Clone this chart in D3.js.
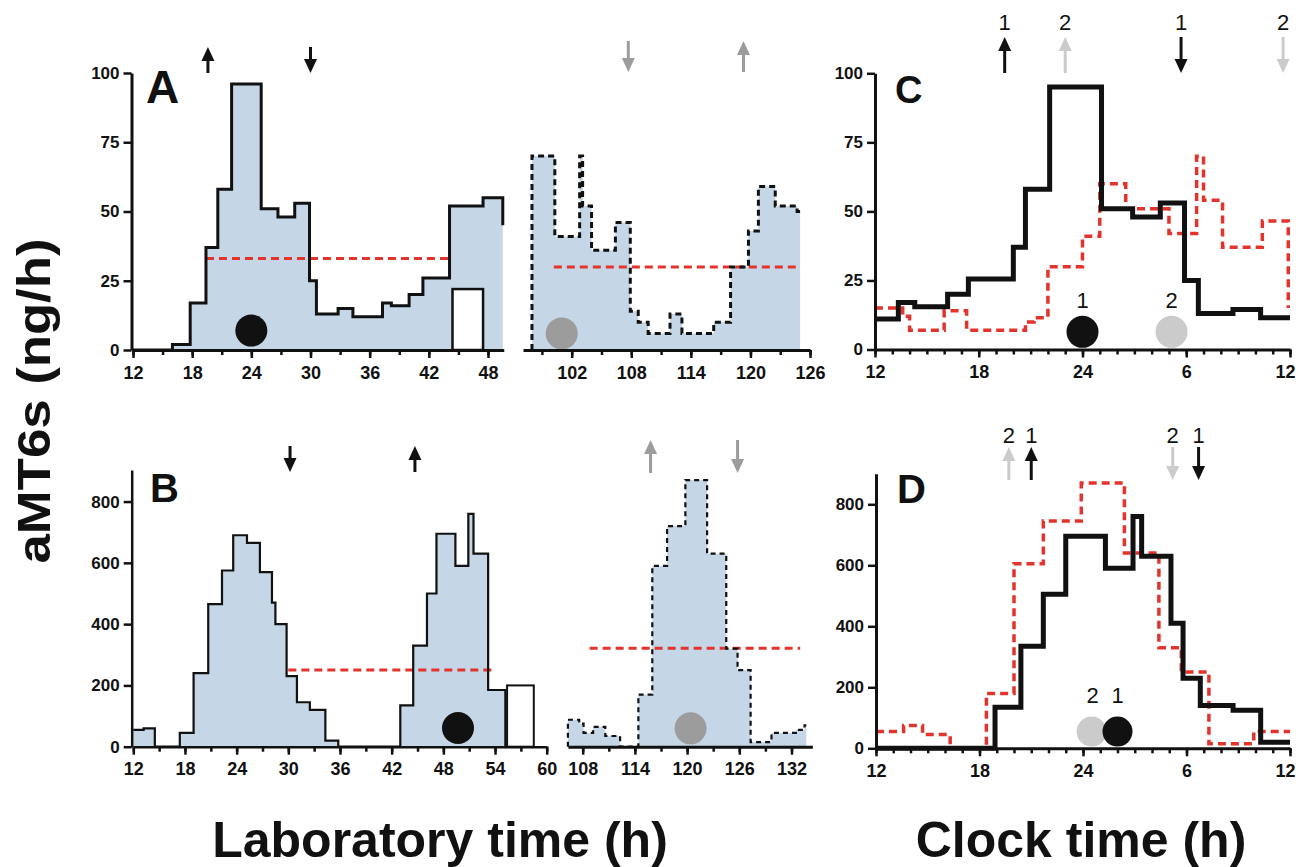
<!DOCTYPE html>
<html><head><meta charset="utf-8">
<script src="https://cdn.jsdelivr.net/npm/d3@7"></script>
<style>body{margin:0;background:#fff}svg{display:block}</style>
</head><body>
<svg id="chart" width="1299" height="867"></svg>
<script>
// ---------- DATA ----------
// Panel A, subject 1, laboratory time (h) – bin edges and aMT6s (ng/h)
const aS1Edges  = [12, 16, 17.8, 19.4, 20.6, 22, 25, 26.7, 28.4, 29.9, 30.6, 32.8, 34.3, 37.3, 38.2, 40, 41.4, 44.1, 47.5, 49.5, 49.5];
const aS1Values = [0, 2, 17, 37, 58, 96, 51, 48, 53, 25, 13, 15, 12, 17, 16, 20, 26, 52, 55, 45];
const aS1Gap    = [44.4, 47.5, 22];
const aS1Mean   = [19.4, 44.1, 33];
const aS1Dots   = [[24, 7]];
const aS1Arrows = [[19.6, "up"], [30, "down"]];
// Panel A, subject 2, laboratory time
const aS2Edges  = [98, 98, 100.3, 102.8, 103.1, 104, 106.4, 107.9, 108.7, 109.7, 111.9, 113.1, 116.3, 118, 119.8, 120.8, 122.5, 124.7, 125];
const aS2Values = [0, 70, 41, 70, 52, 36, 46, 14, 10, 6, 13, 6, 10, 30, 43, 59, 52, 50];
const aS2Mean   = [100.2, 125, 30];
const aS2Dots   = [[101, 6]];
const aS2Arrows = [[107.7, "down"], [119.3, "up"]];
// Panel B, subject 1, laboratory time
const bS1Edges  = [12, 13.2, 14.5, 17.4, 19, 20.7, 22.3, 23.6, 25.2, 26.7, 28.1, 28.5, 29.8, 31, 32.5, 34.3, 35.8, 43, 44.5, 46.1, 47.2, 49.4, 50.9, 51.5, 53.2, 55.2, 55.2];
const bS1Values = [55, 60, 0, 45, 240, 465, 575, 690, 665, 570, 470, 400, 230, 145, 120, 20, 0, 135, 330, 500, 695, 590, 760, 630, 185, 0];
const bS1Gap    = [55.4, 58.5, 200];
const bS1Mean   = [30, 54, 250];
const bS1Dots   = [[49.7, 61]];
const bS1Arrows = [[30.2, "down"], [44.7, "up"]];
// Panel B, subject 2, laboratory time
const bS2Edges  = [106.3, 106.3, 107.6, 108.1, 109.2, 110.6, 112.3, 114.4, 116, 117.7, 119.8, 122.3, 124.5, 125.8, 127.3, 129.7, 132.5, 133.5, 133.7];
const bS2Values = [0, 88, 75, 45, 65, 35, 0, 170, 590, 720, 870, 630, 320, 250, 15, 45, 55, 70];
const bS2Mean   = [108.8, 133, 321];
const bS2Dots   = [[120.4, 60]];
const bS2Arrows = [[115.8, "up"], [125.8, "down"]];
// Panel C, clock time (12 -> 36 = noon to noon)
const cS1Edges  = [12, 13.35, 14.3, 16.2, 17.4, 20, 20.7, 22.1, 25.1, 26.9, 28.5, 29.9, 30.7, 32.7, 34.3, 36];
const cS1Values = [11, 17, 15.5, 20, 25.5, 37, 58, 95, 51, 48, 53, 25, 13, 14.5, 11.5];
const cS2Edges  = [12, 13.6, 14, 16, 17.3, 20.7, 21.2, 22, 24, 25, 26.5, 29, 30.6, 31, 32.1, 34.4, 35.9, 35.9];
const cS2Values = [15, 12, 7, 14, 7, 10, 11.5, 30, 41, 60, 51, 42, 70, 54, 37, 46.5, 15];
const cDots     = [[24, 6.4, 1], [29.15, 6.4, 2]];
const cArrows   = [[19.5, "up", 1], [23, "up", 2], [29.7, "down", 1], [35.6, "down", 2]];
// Panel D, clock time
const dS1Edges  = [12, 18.9, 20.4, 21.7, 23, 25.3, 26.9, 27.4, 29.1, 29.8, 30.8, 32.7, 34.3, 36];
const dS1Values = [0, 135, 335, 505, 695, 590, 760, 630, 410, 230, 140, 125, 20];
const dS2Edges  = [12, 13.6, 14.7, 16.3, 18.4, 20, 21.7, 23.9, 26.4, 28.4, 29.7, 31.3, 33.9, 36];
const dS2Values = [55, 75, 45, 0, 180, 605, 745, 870, 640, 330, 250, 15, 55];
const dDots     = [[24.5, 55, 2], [26.0, 55, 1]];
const dArrows   = [[19.7, "up", 2], [21.0, "up", 1], [29.2, "down", 2], [30.7, "down", 1]];
// Tick labels
const yTicksA = [0, 25, 50, 75, 100];
const yTicksB = [0, 200, 400, 600, 800];
const clockLabels = {12: "12", 18: "18", 24: "24", 30: "6", 36: "12"};

// ---------- STYLE ----------
const FILL = "#c5d7e6", RED = "#e2342d", GREY2 = "#9c9c9c", LIGHT = "#cbcbcb";
const TICKFONT = "'Liberation Sans', Arial, sans-serif";
const svg = d3.select("#chart");

function pts(edges, values) { return edges.map((e, i) => [e, values[Math.min(i, values.length - 1)]]); }

function stepFill(g, x, y, edges, values) {
  g.append("path")
    .attr("d", d3.area().curve(d3.curveStepAfter).x(d => x(d[0])).y0(y(0)).y1(d => y(d[1]))(pts(edges, values)))
    .attr("fill", FILL);
}
function stepLine(g, x, y, edges, values, color, width, dash) {
  g.append("path")
    .attr("d", d3.line().curve(d3.curveStepAfter).x(d => x(d[0])).y(d => y(d[1]))(pts(edges, values)))
    .attr("fill", "none").attr("stroke", color).attr("stroke-width", width)
    .attr("stroke-dasharray", dash || null).attr("stroke-linejoin", "miter").attr("stroke-linecap", "butt");
}
function meanLine(g, x, y, m) {
  g.append("line").attr("x1", x(m[0])).attr("x2", x(m[1])).attr("y1", y(m[2])).attr("y2", y(m[2]))
    .attr("stroke", RED).attr("stroke-width", 3).attr("stroke-dasharray", "8,5");
}
function gapRect(g, x, y, r, w) {
  g.append("rect").attr("x", x(r[0])).attr("y", y(r[2])).attr("width", x(r[1]) - x(r[0])).attr("height", y(0) - y(r[2]))
    .attr("fill", "#fff").attr("stroke", "#111").attr("stroke-width", w);
}
function dot(g, x, y, d, color, r) {
  g.append("circle").attr("cx", x(d[0])).attr("cy", y(d[1])).attr("r", r).attr("fill", color);
}
function arrow(g, xp, top, bot, dir, color) {
  const hw = 6.5, hl = 14;
  if (dir === "up") {
    g.append("line").attr("x1", xp).attr("x2", xp).attr("y1", top + hl - 2).attr("y2", bot).attr("stroke", color).attr("stroke-width", 3);
    g.append("path").attr("d", `M${xp},${top}L${xp + hw},${top + hl}L${xp - hw},${top + hl}Z`).attr("fill", color);
  } else {
    g.append("line").attr("x1", xp).attr("x2", xp).attr("y1", top).attr("y2", bot - hl + 2).attr("stroke", color).attr("stroke-width", 3);
    g.append("path").attr("d", `M${xp},${bot}L${xp + hw},${bot - hl}L${xp - hw},${bot - hl}Z`).attr("fill", color);
  }
}
function xAxis(g, x, y0, minor, major, fmt, w) {
  const gm = g.append("g").attr("transform", `translate(0,${y0})`)
    .call(d3.axisBottom(x).tickValues(minor).tickSize(5).tickSizeOuter(0).tickFormat(""));
  gm.select(".domain").attr("stroke-width", w).attr("stroke", "#111");
  gm.selectAll(".tick line").attr("stroke-width", 2.5).attr("stroke", "#111");
  const gM = g.append("g").attr("transform", `translate(0,${y0})`)
    .call(d3.axisBottom(x).tickValues(major).tickSize(8).tickSizeOuter(0).tickPadding(8).tickFormat(fmt));
  gM.select(".domain").remove();
  gM.selectAll(".tick line").attr("stroke-width", 2.5).attr("stroke", "#111");
  gM.selectAll("text").attr("font-family", TICKFONT).attr("font-size", 18).attr("font-weight", "bold").attr("fill", "#111");
  // keep the last label inside the picture
  gM.selectAll(".tick text").filter(d => x(d) > 1280).attr("dx", -5);
}
function yAxis(g, y, x0, ticks, w) {
  const ga = g.append("g").attr("transform", `translate(${x0},0)`)
    .call(d3.axisLeft(y).tickValues(ticks).tickSize(8).tickSizeOuter(0).tickPadding(4));
  ga.select(".domain").attr("stroke-width", w).attr("stroke", "#111");
  ga.selectAll(".tick line").attr("stroke-width", 2.5).attr("stroke", "#111");
  ga.selectAll("text").attr("font-family", TICKFONT).attr("font-size", 17).attr("font-weight", "bold").attr("fill", "#111");
}
function range(a, b, s) { return d3.range(a, b + 0.001, s); }
function panelLabel(txt, xp, yp, size) {
  svg.append("text").attr("x", xp).attr("y", yp).text(txt)
    .attr("font-family", "'Liberation Sans', Arial, sans-serif").attr("font-weight", "bold").attr("font-size", size).attr("fill", "#111");
}
function numLabel(txt, xp, yp) {
  svg.append("text").attr("x", xp).attr("y", yp).attr("text-anchor", "middle").text(txt)
    .attr("font-family", "'Liberation Sans', Arial, sans-serif").attr("font-size", 22).attr("fill", "#111");
}

// ---------- PANEL A (left) ----------
{
  const g = svg.append("g");
  const x = d3.scaleLinear().domain([12, 49.6]).range([133, 133 + 37.6 * 9.861]);
  const y = d3.scaleLinear().domain([0, 100]).range([350, 73]);
  stepFill(g, x, y, aS1Edges, aS1Values);
  gapRect(g, x, y, aS1Gap, 2.5);
  meanLine(g, x, y, aS1Mean);
  stepLine(g, x, y, aS1Edges, aS1Values, "#111", 3);
  aS1Dots.forEach(d => dot(g, x, y, d, "#111", 16));
  aS1Arrows.forEach(a => arrow(g, x(a[0]), 47, 73, a[1], "#111"));
  xAxis(g, x, 350, range(12, 48, 3), range(12, 48, 6), d => d, 3);
  yAxis(g, y, 131.5, yTicksA, 3);
}
// ---------- PANEL A (right) ----------
{
  const g = svg.append("g");
  const x = d3.scaleLinear().domain([97.1, 126]).range([571.7 - 4.9 * 9.93, 571.7 + 24 * 9.93]);
  const y = d3.scaleLinear().domain([0, 100]).range([350, 73]);
  stepFill(g, x, y, aS2Edges, aS2Values);
  meanLine(g, x, y, aS2Mean);
  stepLine(g, x, y, aS2Edges, aS2Values, "#111", 3, "6,4");
  aS2Dots.forEach(d => dot(g, x, y, d, GREY2, 16));
  aS2Arrows.forEach(a => arrow(g, x(a[0]), 41, 72, a[1], GREY2));
  xAxis(g, x, 350, range(99, 126, 3), range(102, 126, 6), d => d, 3);
}
// ---------- PANEL B (left) ----------
{
  const g = svg.append("g");
  const x = d3.scaleLinear().domain([12, 60]).range([133.3, 546.7]);
  const y = d3.scaleLinear().domain([0, 903]).range([746.7, 470]);
  stepFill(g, x, y, bS1Edges, bS1Values);
  gapRect(g, x, y, bS1Gap, 2);
  meanLine(g, x, y, bS1Mean);
  stepLine(g, x, y, bS1Edges, bS1Values, "#111", 2.2);
  bS1Dots.forEach(d => dot(g, x, y, d, "#111", 16));
  bS1Arrows.forEach(a => arrow(g, x(a[0]), 446, 472, a[1], "#111"));
  xAxis(g, x, 746.7, range(12, 60, 3), range(12, 60, 6), d => d, 2.5);
  yAxis(g, y, 131.7, yTicksB, 2.5);
}
// ---------- PANEL B (right) ----------
{
  const g = svg.append("g");
  const x = d3.scaleLinear().domain([106.3, 134.4]).range([582.7 - 1.7 * 8.7, 582.7 + 26.4 * 8.7]);
  const y = d3.scaleLinear().domain([0, 903]).range([746.7, 470]);
  stepFill(g, x, y, bS2Edges, bS2Values);
  meanLine(g, x, y, bS2Mean);
  stepLine(g, x, y, bS2Edges, bS2Values, "#111", 2.2, "5,4");
  bS2Dots.forEach(d => dot(g, x, y, d, GREY2, 16));
  bS2Arrows.forEach(a => arrow(g, x(a[0]), 440, 473, a[1], GREY2));
  xAxis(g, x, 746.7, range(108, 132, 3), range(108, 132, 6), d => d, 3);
}
// ---------- PANEL C ----------
{
  const g = svg.append("g");
  const x = d3.scaleLinear().domain([12, 36]).range([875, 1290]);
  const y = d3.scaleLinear().domain([0, 100]).range([349.5, 73.3]);
  stepLine(g, x, y, cS2Edges, cS2Values, RED, 3.5, "8,5");
  stepLine(g, x, y, cS1Edges, cS1Values, "#111", 5);
  cDots.forEach(d => dot(g, x, y, d, d[2] === 1 ? "#111" : LIGHT, 16));
  cDots.forEach(d => numLabel(d[2], x(d[0]), 308));
  cArrows.forEach(a => { arrow(g, x(a[0]), 37, 73, a[1], a[2] === 1 ? "#111" : LIGHT); numLabel(a[2], x(a[0]), 30); });
  xAxis(g, x, 349.5, range(12, 36, 1), range(12, 36, 6), d => clockLabels[d], 3);
  yAxis(g, y, 875, yTicksA, 3);
}
// ---------- PANEL D ----------
{
  const g = svg.append("g");
  const x = d3.scaleLinear().domain([12, 36]).range([876, 1290]);
  const y = d3.scaleLinear().domain([0, 900]).range([748.3, 473.8]);
  stepLine(g, x, y, dS2Edges, dS2Values, RED, 3.5, "8,5");
  stepLine(g, x, y, dS1Edges, dS1Values, "#111", 5);
  dDots.forEach(d => dot(g, x, y, d, d[2] === 1 ? "#111" : LIGHT, 15));
  dDots.forEach(d => numLabel(d[2], x(d[0]) + (d[2] === 1 ? 0 : 1), 703));
  dArrows.forEach(a => { arrow(g, x(a[0]), 447, 480, a[1], a[2] === 1 ? "#111" : LIGHT); numLabel(a[2], x(a[0]), 443); });
  xAxis(g, x, 748.3, range(12, 36, 1), range(12, 36, 6), d => clockLabels[d], 3);
  yAxis(g, y, 876, yTicksB, 3);
}

// ---------- LABELS ----------
panelLabel("A", 146, 103, 46);
panelLabel("B", 150, 502, 40);
panelLabel("C", 895, 103, 38);
panelLabel("D", 897, 503, 40);

svg.append("text").attr("transform", "translate(50,401) rotate(-90)").attr("text-anchor", "middle")
  .attr("font-family", "'Liberation Sans', Arial, sans-serif").attr("font-weight", "bold").attr("font-size", 47)
  .attr("textLength", 325).attr("lengthAdjust", "spacingAndGlyphs").attr("fill", "#111").text("aMT6s (ng/h)");
svg.append("text").attr("x", 440).attr("y", 857).attr("text-anchor", "middle")
  .attr("font-family", "'Liberation Sans', Arial, sans-serif").attr("font-weight", "bold").attr("font-size", 50)
  .attr("fill", "#111").text("Laboratory time (h)");
svg.append("text").attr("x", 1081).attr("y", 857).attr("text-anchor", "middle")
  .attr("font-family", "'Liberation Sans', Arial, sans-serif").attr("font-weight", "bold").attr("font-size", 50)
  .attr("fill", "#111").text("Clock time (h)");
</script>
</body></html>
